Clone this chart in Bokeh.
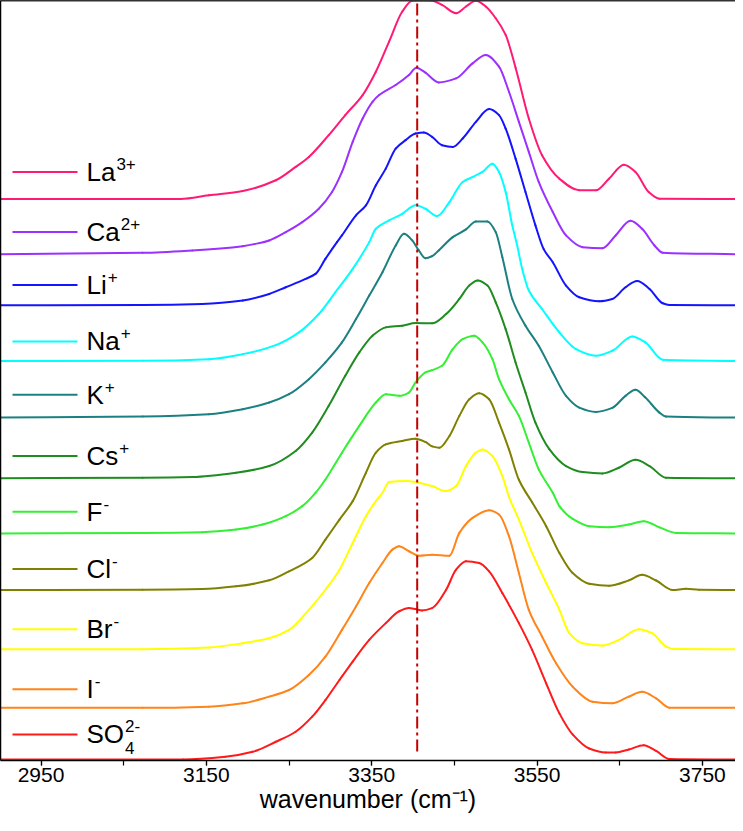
from bokeh.plotting import figure
from bokeh.models import Range1d, FixedTicker, LinearAxis
from bokeh.core.properties import value
from bokeh.embed import file_html
from bokeh.resources import INLINE

# ---------------- data (wavenumber, intensity above own baseline) ----------------
la_wn = [2900, 3119, 3153, 3194, 3234, 3258, 3274, 3298, 3318, 3339, 3355, 3371, 3387, 3399, 3410, 3423, 3435, 3452, 3464, 3476, 3488, 3500, 3512, 3524, 3540, 3556, 3577, 3601, 3621, 3637, 3655, 3669, 3685, 3698, 3790]
la_int = [0, 0, 3.7, 8, 18.7, 32, 42, 63.7, 83.7, 103.7, 127, 157, 187, 197.7, 198, 197.7, 193.7, 185.3, 192, 197.7, 192, 180.3, 163.7, 131, 80.3, 43.7, 20.3, 8.7, 8.7, 20.3, 34.3, 27, 7, 0.3, 0]

ca_wn = [2900, 3073, 3133, 3194, 3214, 3226, 3246, 3266, 3286, 3302, 3314, 3327, 3339, 3351, 3359, 3379, 3395, 3404, 3415, 3431, 3452, 3472, 3488, 3504, 3516, 3528, 3540, 3552, 3569, 3585, 3605, 3629, 3645, 3663, 3677, 3692, 3702, 3790]
ca_int = [0, 1.3, 3.7, 8, 11, 13.7, 22, 32, 45.3, 62, 82, 112, 135.3, 152, 158.7, 168.7, 178.7, 186, 181, 171.3, 175.3, 190.3, 198.7, 187, 162, 132, 102, 72, 42, 18.7, 7, 6, 18.7, 33.3, 25.3, 8.7, 1.5, 0]

li_wn = [2900, 3073, 3145, 3194, 3226, 3246, 3270, 3282, 3294, 3308, 3314, 3331, 3343, 3355, 3367, 3379, 3391, 3403, 3413, 3423, 3435, 3448, 3460, 3476, 3492, 3504, 3512, 3524, 3536, 3548, 3558, 3569, 3585, 3601, 3625, 3641, 3657, 3671, 3686, 3702, 3710, 3790]
li_int = [0, 0.3, 1.3, 4.7, 11.3, 18, 26.3, 31.3, 46.3, 63, 69.7, 89.7, 99.7, 119.7, 136.3, 156.3, 164.7, 171.3, 172.3, 168, 159.7, 158, 166.3, 183, 195.7, 189.7, 176.3, 146.3, 113, 79.7, 56, 43, 19.7, 8, 4, 6.3, 18, 24.3, 16.3, 2, 0.3, 0]

na_wn = [2900, 3073, 3153, 3194, 3234, 3262, 3286, 3306, 3327, 3347, 3355, 3371, 3387, 3403, 3415, 3429, 3444, 3460, 3472, 3484, 3496, 3504, 3512, 3520, 3526, 3532, 3540, 3556, 3577, 3597, 3621, 3641, 3665, 3681, 3702, 3790]
na_int = [0, 0.2, 1.8, 6.8, 15.8, 28.5, 46.8, 68.5, 91.8, 118.5, 131.8, 140.2, 146.8, 155.2, 151.8, 144.5, 158.5, 178.5, 183.5, 188.5, 196.8, 188.5, 168.5, 135.2, 115, 91.8, 70.2, 51.8, 28.5, 11.8, 5.2, 10.2, 24.5, 18.5, 1.2, 0]

k_wn = [2900, 3073, 3153, 3194, 3226, 3250, 3274, 3294, 3314, 3331, 3347, 3363, 3379, 3389, 3399, 3407, 3415, 3423, 3431, 3448, 3464, 3476, 3490, 3500, 3508, 3520, 3536, 3552, 3569, 3585, 3601, 3621, 3641, 3657, 3669, 3681, 3698, 3706, 3790]
k_int = [0, 1, 3.3, 8.3, 15, 23.3, 38.3, 55, 75, 98.3, 121.7, 145, 171.7, 183.3, 176.7, 166.7, 159, 161, 166.7, 180, 187.7, 195.7, 195.7, 185, 160, 118.3, 91.7, 71.7, 45, 21.7, 10, 5.7, 9.7, 21.7, 27.7, 20, 5, 1, 0]

cs_wn = [2900, 3073, 3133, 3186, 3226, 3258, 3278, 3298, 3318, 3335, 3351, 3367, 3387, 3403, 3423, 3440, 3456, 3468, 3478, 3490, 3500, 3512, 3524, 3536, 3548, 3565, 3585, 3605, 3629, 3649, 3669, 3686, 3706, 3790]
cs_int = [0, 0.5, 1.2, 5.5, 12.2, 27.2, 45.5, 72.2, 102.2, 125.5, 142.2, 150.5, 152.2, 154.8, 154.5, 163.8, 178.8, 192.2, 197.2, 192.2, 175.5, 148.8, 115.5, 85.5, 55.5, 28.8, 12.2, 6.2, 4.8, 10.5, 18.5, 12.2, 0.5, 0]

f_wn = [2900, 3073, 3145, 3186, 3218, 3246, 3266, 3282, 3294, 3314, 3335, 3355, 3367, 3383, 3395, 3403, 3415, 3423, 3435, 3448, 3460, 3474, 3484, 3496, 3504, 3516, 3528, 3540, 3552, 3569, 3577, 3593, 3613, 3637, 3661, 3679, 3698, 3718, 3790]
f_int = [0, 0.5, 1.2, 3.8, 8.8, 17.2, 27.2, 40.5, 53.8, 80.5, 107.2, 130.5, 138.8, 137.2, 140.5, 150.5, 160.5, 162.8, 167.2, 183.8, 193.8, 197.2, 190.5, 173.8, 153.8, 133.8, 117.2, 90.5, 63.8, 40.5, 27.2, 14.5, 7.2, 6.2, 8.8, 12.2, 6, 0.5, 0]

cl_wn = [2900, 3073, 3145, 3186, 3226, 3250, 3278, 3294, 3311, 3327, 3343, 3355, 3367, 3387, 3403, 3415, 3423, 3432, 3444, 3456, 3468, 3480, 3492, 3504, 3516, 3528, 3544, 3561, 3577, 3593, 3613, 3637, 3661, 3677, 3694, 3714, 3730, 3746, 3790]
cl_int = [0, 0.3, 1, 3.7, 9.7, 18.7, 32, 50.3, 70.3, 88.7, 117, 137, 145.3, 148.7, 151, 147.7, 143.3, 142, 153.7, 173.7, 190.3, 196.3, 190.3, 167, 140.3, 110, 87.5, 63.7, 37, 17, 6.3, 4.3, 9.7, 15.3, 9.5, 0, 1.3, 0.3, 0]

br_wn = [2900, 3073, 3153, 3194, 3226, 3250, 3274, 3294, 3311, 3327, 3343, 3355, 3363, 3371, 3391, 3407, 3423, 3440, 3452, 3464, 3476, 3484, 3496, 3508, 3516, 3528, 3544, 3561, 3577, 3589, 3605, 3629, 3649, 3673, 3689, 3706, 3714, 3790]
br_int = [0, 0, 1.7, 6, 11, 19.3, 39.3, 59.3, 79.3, 106, 132.7, 147.7, 156, 166.7, 167.7, 166, 162.7, 157.7, 162.7, 182.7, 196, 199.3, 192.7, 172.7, 152, 129.3, 96, 66, 39.3, 16, 6, 3.7, 9.3, 20, 16, 2.7, 0.3, 0]

i_wn = [2900, 3073, 3153, 3194, 3226, 3250, 3274, 3294, 3314, 3331, 3347, 3363, 3375, 3383, 3395, 3407, 3423, 3444, 3456, 3472, 3492, 3504, 3516, 3528, 3540, 3556, 3573, 3593, 3617, 3641, 3661, 3677, 3694, 3710, 3790]
i_int = [0, 0, 1.2, 4.5, 11.2, 17.8, 32.8, 51.2, 77.8, 101.2, 124.5, 144.5, 157.8, 161.2, 156.2, 151.8, 152.8, 151.8, 174.5, 189.5, 197.2, 192.8, 171.2, 134.5, 97.8, 71.2, 44.5, 21.2, 6.2, 4.5, 11.2, 16, 9.5, 0.2, 0]

so4_wn = [2900, 3122, 3173, 3206, 3234, 3258, 3278, 3294, 3311, 3327, 3347, 3367, 3383, 3395, 3403, 3411, 3423, 3440, 3452, 3464, 3480, 3492, 3508, 3528, 3544, 3561, 3577, 3593, 3613, 3633, 3645, 3661, 3679, 3694, 3710, 3790]
so4_int = [0, 0, 2.7, 7.7, 17.7, 27.7, 42.7, 59.3, 79.3, 97.7, 119.3, 136, 147.7, 151, 150, 148.7, 151, 169.3, 189.3, 197.7, 196, 187.7, 166, 136, 109.3, 76, 46, 25, 11, 7, 7, 10, 14.3, 8.5, 0.5, 0]

# stacking offsets (bottom to top) and labels
series_keys = ["SO4", "I", "Br", "Cl", "F", "Cs", "K", "Na", "Li", "Ca", "La"]
offsets = [0, 51.5, 110, 169, 225.5, 280.5, 341, 397.5, 453, 504, 559]
label_base = ["SO", "I", "Br", "Cl", "F", "Cs", "K", "Na", "Li", "Ca", "La"]
label_sup = ["2-", "-", "-", "-", "-", "+", "+", "+", "+", "2+", "3+"]
label_sub = ["4", "", "", "", "", "", "", "", "", "", ""]
colors = ["#ff1a1a", "#ff8419", "#ffff00", "#808000", "#33f033", "#1f8c1f",
          "#1c8080", "#00ffff", "#1414ff", "#9b30ff", "#ff1a75"]

x_ticks = [2950, 3150, 3350, 3550, 3750]
x_minor = [2950, 3050, 3150, 3250, 3350, 3450, 3550, 3650, 3750]
x_title = "wavenumber (cm\u207b\u00b9)"
ref_line_wn = 3405

wn_data = [so4_wn, i_wn, br_wn, cl_wn, f_wn, cs_wn, k_wn, na_wn, li_wn, ca_wn, la_wn]
int_data = [so4_int, i_int, br_int, cl_int, f_int, cs_int, k_int, na_int, li_int, ca_int, la_int]

# ---------------- layout ----------------
W, H = 735, 815
X0, X1 = 2901, 3790
Y0, Y1 = -1, 757
FONT = "Liberation Sans"

p = figure(width=W, height=H, x_range=Range1d(X0, X1), y_range=Range1d(Y0, Y1),
           output_backend="svg", toolbar_location=None,
           x_axis_location=None, y_axis_location=None,
           min_border_left=0, min_border_right=0, min_border_top=0, min_border_bottom=0)
p.outline_line_color = None
p.background_fill_color = "white"
p.border_fill_color = "white"
for g in p.grid:
    g.visible = False

xaxis = LinearAxis(ticker=FixedTicker(ticks=x_ticks, minor_ticks=x_minor), axis_label=x_title)
xaxis.axis_line_color = "black"
xaxis.axis_line_width = 1.5
xaxis.major_tick_out = 5
xaxis.major_tick_in = 0
xaxis.minor_tick_out = 5
xaxis.minor_tick_in = 0
xaxis.major_tick_line_width = 1.2
xaxis.minor_tick_line_width = 1.2
xaxis.major_label_text_font = FONT
xaxis.major_label_text_font_size = "21px"
xaxis.major_label_text_color = "black"
xaxis.major_label_standoff = 2
xaxis.axis_label_text_font = FONT
xaxis.axis_label_text_font_size = "25px"
xaxis.axis_label_text_font_style = "normal"
xaxis.axis_label_text_color = "black"
xaxis.axis_label_standoff = 0
p.add_layout(xaxis, "below")

for loc in ("left", "above"):
    ax = LinearAxis(ticker=FixedTicker(ticks=[]))
    ax.major_tick_out = 0
    ax.major_tick_in = 0
    ax.minor_tick_out = 0
    ax.minor_tick_in = 0
    ax.major_label_text_font_size = "0px"
    ax.major_label_standoff = 0
    ax.axis_label_standoff = 0
    ax.axis_line_color = "black" if loc == "left" else "#333333"
    ax.axis_line_width = 1.5 if loc == "left" else 2
    p.add_layout(ax, loc)


def pchip_slopes(xs, ys):
    n = len(xs)
    h = [xs[k + 1] - xs[k] for k in range(n - 1)]
    d = [(ys[k + 1] - ys[k]) / h[k] for k in range(n - 1)]
    m = [0.0] * n
    m[0], m[-1] = d[0], d[-1]
    for k in range(1, n - 1):
        if d[k - 1] * d[k] <= 0:
            m[k] = 0.0
        else:
            w1 = 2 * h[k] + h[k - 1]
            w2 = h[k] + 2 * h[k - 1]
            m[k] = (w1 + w2) / (w1 / d[k - 1] + w2 / d[k])
    return m


# spectra, drawn as smooth cubic segments through the read points
for wn, inten, off, c in zip(wn_data, int_data, offsets, colors):
    ys = [v + off for v in inten]
    m = pchip_slopes(wn, ys)
    x0s, y0s, x1s, y1s, cx0, cy0, cx1, cy1 = [], [], [], [], [], [], [], []
    for k in range(len(wn) - 1):
        hk = wn[k + 1] - wn[k]
        x0s.append(wn[k]); y0s.append(ys[k])
        x1s.append(wn[k + 1]); y1s.append(ys[k + 1])
        cx0.append(wn[k] + hk / 3); cy0.append(ys[k] + m[k] * hk / 3)
        cx1.append(wn[k + 1] - hk / 3); cy1.append(ys[k + 1] - m[k + 1] * hk / 3)
    p.bezier(x0=x0s, y0=y0s, x1=x1s, y1=y1s, cx0=cx0, cy0=cy0, cx1=cx1, cy1=cy1,
             line_color=c, line_width=2, line_cap="round")

# reference dash-dot line
p.segment(x0=[ref_line_wn], y0=[8], x1=[ref_line_wn], y1=[Y1], line_color="#c40000",
          line_width=2, line_dash="12 4 3 4")

# ---------------- manual legend ----------------
SX = W / (X1 - X0)          # px per wavenumber
FRAME_LEFT = 8              # page px of frame left edge


def px_to_x(px):
    return X0 + (px - FRAME_LEFT) / SX


def py_to_y(py):
    return 766 - py


legend_py = [741, 696, 636, 576, 519, 463.3, 402.3, 349, 292.7, 240, 180]
LINE_L, LINE_R, TEXT_L = 20, 85, 94
BASE_SIZE, SUP_SIZE = 26, 17
ARIAL_W = {'L': 556, 'a': 556, 'C': 722, 'i': 222, 'N': 722, 'K': 667, 's': 500, 'F': 611,
           'l': 222, 'B': 667, 'r': 333, 'I': 278, 'S': 667, 'O': 778}


def text_w(s, size):
    return sum(ARIAL_W[ch] for ch in s) * size / 1000.0


p.segment(x0=[px_to_x(LINE_L)] * 11, x1=[px_to_x(LINE_R)] * 11,
          y0=[py_to_y(v) for v in legend_py], y1=[py_to_y(v) for v in legend_py],
          line_color=colors, line_width=2)

p.text(x=[px_to_x(TEXT_L)] * 11, y=[py_to_y(v) for v in legend_py], text=label_base,
       text_font=value(FONT), text_font_size=value(f"{BASE_SIZE}px"),
       text_baseline="middle", text_align="left", text_color="black")

sup_x, sup_y, sup_t, sub_x, sub_y, sub_t = [], [], [], [], [], []
for base, sup, sub, py in zip(label_base, label_sup, label_sub, legend_py):
    sx = TEXT_L + text_w(base, BASE_SIZE) + 1
    if sub:
        sub_x.append(px_to_x(sx))
        sub_y.append(py_to_y(py + 14))
        sub_t.append(sub)
    sup_x.append(px_to_x(sx))
    sup_y.append(py_to_y(py - 8))
    sup_t.append(sup)

p.text(x=sup_x, y=sup_y, text=sup_t, text_font=value(FONT), text_font_size=value(f"{SUP_SIZE}px"),
       text_baseline="middle", text_align="left", text_color="black")
p.text(x=sub_x, y=sub_y, text=sub_t, text_font=value(FONT), text_font_size=value(f"{SUP_SIZE}px"),
       text_baseline="middle", text_align="left", text_color="black")

open("out.html", "w").write(file_html(p, INLINE))
